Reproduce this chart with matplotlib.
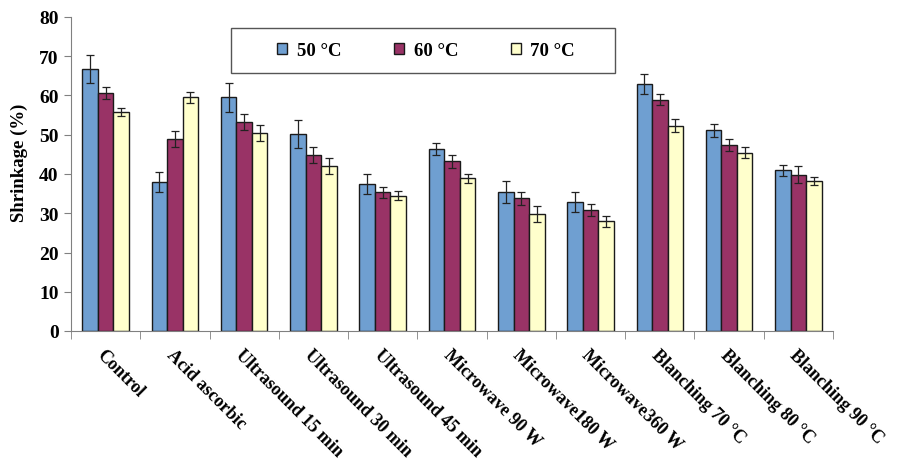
import numpy as np
import matplotlib.pyplot as plt
from matplotlib.patches import Rectangle

plt.rcParams['font.family'] = 'Liberation Serif'
plt.rcParams['font.weight'] = 'bold'

categories = ['Control', 'Acid ascorbic', 'Ultrasound 15 min', 'Ultrasound 30 min',
              'Ultrasound 45 min', 'Microwave 90 W', 'Microwave180 W', 'Microwave360 W',
              'Blanching 70 °C', 'Blanching 80 °C', 'Blanching 90 °C']

# shrinkage (%) and error bars for each drying temperature
t50 = [66.8, 37.9, 59.5, 50.2, 37.4, 46.4, 35.5, 32.9, 62.9, 51.1, 41.0]
t60 = [60.6, 48.9, 53.2, 44.8, 35.3, 43.2, 33.8, 30.8, 58.9, 47.3, 39.8]
t70 = [55.7, 59.5, 50.4, 42.1, 34.5, 38.9, 29.8, 28.0, 52.3, 45.4, 38.2]
e50 = [3.6, 2.5, 3.6, 3.6, 2.6, 1.6, 2.8, 2.5, 2.6, 1.6, 1.4]
e60 = [1.5, 2.1, 2.0, 2.0, 1.5, 1.6, 1.6, 1.6, 1.4, 1.5, 2.2]
e70 = [1.0, 1.5, 2.0, 2.0, 1.1, 1.1, 2.1, 1.4, 1.7, 1.4, 1.1]

series = [('50 °C', t50, e50, '#6f9fd1'),
          ('60 °C', t60, e60, '#993366'),
          ('70 °C', t70, e70, '#ffffcc')]

W, H = 898, 464
fig = plt.figure(figsize=(W / 100, H / 100), dpi=100)
ax = fig.add_axes([71 / W, 1 - 332 / H, 762 / W, 314 / H])

x = np.arange(len(categories))
w = 0.224
for i, (lab, vals, errs, col) in enumerate(series):
    ax.bar(x + (i - 1) * w, vals, w, color=col, edgecolor='#1a1a1a', linewidth=1.0,
           label=lab, yerr=errs, capsize=3.2,
           error_kw=dict(ecolor='#222222', elinewidth=0.9, capthick=0.9))

ax.set_xlim(-0.5, len(categories) - 0.5)
ax.set_ylim(0, 80)
ax.set_yticks(np.arange(0, 81, 10))
ax.tick_params(axis='y', labelsize=14, direction='out', length=5, color='#808080', pad=4)

ax.set_xticks(np.arange(-0.5, len(categories)), minor=True)
ax.tick_params(axis='x', which='minor', length=6, color='#808080', direction='out')
ax.set_xticks(x)
ax.set_xticklabels(categories, rotation=-45, ha='left', va='top',
                   rotation_mode='anchor', fontsize=13)
ax.tick_params(axis='x', which='major', length=0, pad=11)

for s in ['top', 'right']:
    ax.spines[s].set_visible(False)
for s in ['left', 'bottom']:
    ax.spines[s].set_color('#808080')

ax.set_ylabel('Shrinkage (%)', fontsize=13.5, fontweight='bold')
ax.yaxis.set_label_coords(-0.056, 0.538)

# legend: frameless entries plus a separate square box
fig.add_artist(Rectangle((231 / W, 1 - 74 / H), 384 / W, 45 / H, transform=fig.transFigure,
                         facecolor='white', edgecolor='#555555', linewidth=1.0, zorder=5))
leg = fig.legend(loc='center', ncol=3, bbox_to_anchor=(426 / W, 1 - 51.5 / H),
                 fontsize=13.5, handlelength=0.55, handleheight=0.55, handletextpad=0.5,
                 columnspacing=2.8, frameon=False)
leg.set_zorder(6)

fig.savefig('out.png', dpi=100)
